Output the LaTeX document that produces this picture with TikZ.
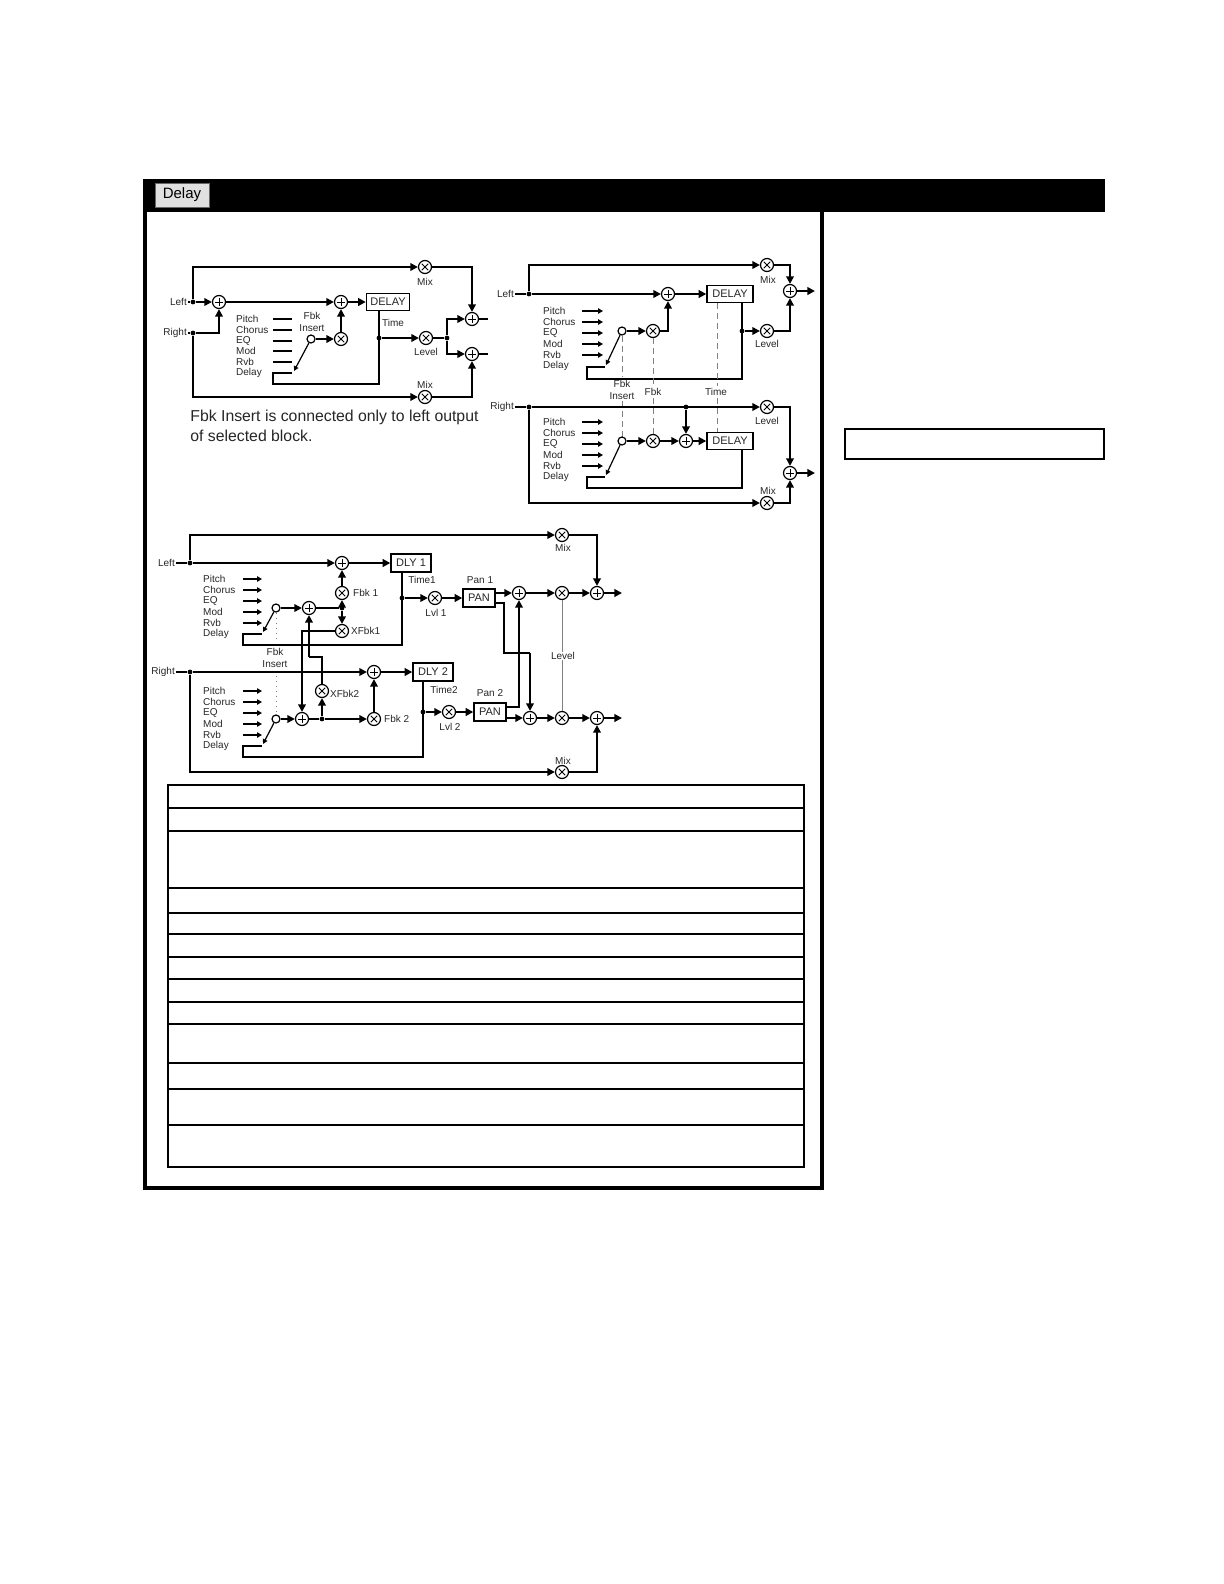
\documentclass[tikz,border=0pt]{standalone}
\usepackage{fontspec}
\setmainfont{Liberation Sans}
\usetikzlibrary{arrows.meta}
\tikzset{
 w/.style={line width=1.2pt},
 a/.style={w,-{Triangle[length=3.8pt,width=3.8pt]}},
 lbl/.style={font=\fontsize{5pt}{6pt}\selectfont,inner sep=0.4pt,text=black!85},
 sm/.style={circle,draw,line width=0.6pt,fill=white,minimum size=6.5pt,inner sep=0pt,
   path picture={\draw[line width=0.5pt]([yshift=-1.9pt]path picture bounding box.center)--([yshift=1.9pt]path picture bounding box.center);
   \draw[line width=0.5pt]([xshift=-1.9pt]path picture bounding box.center)--([xshift=1.9pt]path picture bounding box.center);}},
 mu/.style={circle,draw,line width=0.6pt,fill=white,minimum size=6.5pt,inner sep=0pt,
   path picture={\draw[line width=0.5pt]([shift={(-1.6pt,-1.6pt)}]path picture bounding box.center)--([shift={(1.6pt,1.6pt)}]path picture bounding box.center);
   \draw[line width=0.5pt]([shift={(-1.6pt,1.6pt)}]path picture bounding box.center)--([shift={(1.6pt,-1.6pt)}]path picture bounding box.center);}},
 oc/.style={circle,draw,line width=0.6pt,fill=white,minimum size=4pt,inner sep=0pt},
 dot/.style={circle,fill,minimum size=2.4pt,inner sep=0pt},
 blk/.style={draw,line width=0.7pt,fill=white,font=\fontsize{5.5pt}{6pt}\selectfont,inner sep=0pt,text=black!85},
 bar/.style={line width=1pt},
 abar/.style={line width=0.9pt,-{Triangle[length=2.4pt,width=2.6pt]}},
 sw/.style={line width=0.6pt,-{Triangle[length=2.4pt,width=2.4pt]}},
 dsh/.style={gray,line width=0.5pt,densely dashed},
 note/.style={anchor=west,inner sep=0pt,font=\fontsize{7.9pt}{9pt}\selectfont,text=black!85},
}
\newcommand\plist[6]{%
 \foreach \t [count=\i from 0] in {Pitch,Chorus,EQ,Mod,Rvb,Delay}{
  \node[lbl,anchor=west] at (#1,{#2+\i*#5}) {\t};
  \ifnum\i<5 \draw[#6] (#3,{#2+\i*#5}) -- (#4,{#2+\i*#5});\fi}}
\begin{document}
\begin{tikzpicture}[x=0.5pt,y=-0.5pt]
\useasboundingbox (0,0) rectangle (1224,1584);
% frame
\fill (143,179) rectangle (1105,212);
\node[draw=black!60,line width=0.5pt,fill=black!12,minimum width=27pt,minimum height=12pt,inner sep=0pt,font=\fontsize{7.5pt}{8pt}\selectfont] (btn) at (182,195) {Delay};
\draw[line width=1.6pt] (145,212) -- (145,1188) -- (822,1188) -- (822,212);
\draw[line width=1.4pt] (845,429) rectangle (1104,459);
\draw[blue!70!black,line width=0.5pt] (125,1586) -- (267,1586);
% table
\draw[line width=1.3pt] (168,785) rectangle (804,1167);
\foreach \yy in {808,831,888,913,934,957,979,1002,1024,1063,1089,1125}
  \draw[line width=0.6pt] (168,\yy) -- (804,\yy);

%%%%%%%% Diagram 1
\node[lbl,anchor=east] (aL) at (188,302) {Left};
\node[lbl,anchor=east] (aR) at (188,333) {Right};
\node[dot] (ajl) at (193,302) {};
\node[dot] (ajr) at (193,333) {};
\node[sm] (as1) at (219,302) {};
\node[sm] (as2) at (341,302) {};
\node[blk,minimum width=21.5pt,minimum height=8.5pt] (adly) at (388,302) {DELAY};
\node[mu] (afbk) at (341,339) {};
\node[oc] (ains) at (311,339) {};
\node[mu] (amix1) at (425,267) {};
\node[mu] (amix2) at (425,397) {};
\node[dot] (ajt) at (379,338) {};
\node[mu] (alev) at (426,338) {};
\node[dot] (ajo) at (447,338) {};
\node[sm] (as3) at (472,319) {};
\node[sm] (as4) at (472,354) {};
\coordinate (ao3) at (488,319); \coordinate (ao4) at (488,354);
\coordinate (ab1) at (379,384); \coordinate (ab2) at (273,384); \coordinate (ab3) at (273,373); \coordinate (ab4) at (292,373);
\draw[w] (aL) -- (ajl); \draw[w] (aR) -- (ajr);
\draw[a] (ajl) -- (as1);
\draw[a] (ajl) |- (amix1);
\draw[a] (ajr) -| (as1);
\draw[a] (ajr) |- (amix2);
\draw[a] (as1) -- (as2);
\draw[a] (as2) -- (adly);
\draw[a] (ains) -- (afbk);
\draw[a] (afbk) -- (as2);
\draw[w] (ajt |- adly.south) -- (ab1) -- (ab2) -- (ab3) -- (ab4);
\draw[a] (ajt) -- (alev);
\draw[w] (alev) -- (ajo);
\draw[a] (ajo) |- (as3);
\draw[a] (ajo) |- (as4);
\draw[a] (amix1) -| (as3);
\draw[a] (amix2) -| (as4);
\draw[w] (as3) -- (ao3); \draw[w] (as4) -- (ao4);
\plist{235}{319}{273}{292}{10.8}{bar}
\draw[sw] (ains) -- (294,371);
\node[lbl,align=center] at (312,322) {Fbk\\Insert};
\node[lbl] at (425,282) {Mix};
\node[lbl] at (425,385) {Mix};
\node[lbl] at (393,323) {Time};
\node[lbl] at (426,352) {Level};
\node[note] at (190,417) {Fbk Insert is connected only to left output};
\node[note] at (190,436) {of selected block.};

%%%%%%%% Diagram 2
\node[lbl,anchor=east] (bL) at (515,294) {Left};
\node[dot] (bjl) at (529,294) {};
\node[mu] (bmix1) at (767,265) {};
\node[sm] (bs1) at (668,294) {};
\node[blk,minimum width=23pt,minimum height=8.5pt] (bdly1) at (730,294) {DELAY};
\node[oc] (boc1) at (622,331) {};
\node[mu] (bfbk1) at (653,331) {};
\node[dot] (bjt1) at (742,331) {};
\node[mu] (blev1) at (767,331) {};
\node[sm] (bo1) at (790,291) {};
\coordinate (bx1) at (815,291);
\draw[w] (bL) -- (bjl);
\draw[a] (bjl) |- (bmix1);
\draw[a] (bjl) -- (bs1);
\draw[a] (bs1) -- (bdly1);
\draw[a] (boc1) -- (bfbk1);
\draw[a] (bfbk1) -| (bs1);
\coordinate (bb1) at (742,379); \coordinate (bb2) at (587,379); \coordinate (bb3) at (587,367); \coordinate (bb4) at (605,367);
\draw[w] (bjt1 |- bdly1.south) -- (bb1) -- (bb2) -- (bb3) -- (bb4);
\draw[a] (bjt1) -- (blev1);
\draw[a] (blev1) -| (bo1);
\draw[a] (bmix1) -| (bo1);
\draw[a] (bo1) -- (bx1);
\plist{542}{311}{582}{603}{11}{abar}
\draw[sw] (boc1) -- (606,365);
\node[lbl] at (768,280) {Mix};
\node[lbl] at (767,344) {Level};
% dashed
\draw[dsh] (boc1) -- (622,377); \draw[dsh] (622,401) -- (622,437);
\draw[dsh] (bfbk1) -- (653,386); \draw[dsh] (653,398) -- (653,436);
\draw[dsh] (717,303) -- (717,386); \draw[dsh] (717,398) -- (717,432);
\node[lbl,align=center] at (622,390) {Fbk\\Insert};
\node[lbl] at (653,392) {Fbk};
\node[lbl] at (716,392) {Time};
% lower
\node[lbl,anchor=east] (bR) at (515,407) {Right};
\node[dot] (bjr) at (529,407) {};
\node[dot] (bjr2) at (686,407) {};
\node[mu] (blev2) at (767,407) {};
\node[sm] (bs2) at (686,441) {};
\node[oc] (boc2) at (622,441) {};
\node[mu] (bfbk2) at (653,441) {};
\node[blk,minimum width=23pt,minimum height=8.5pt] (bdly2) at (730,441) {DELAY};
\node[mu] (bmix2) at (767,503) {};
\node[sm] (bo2) at (790,473) {};
\coordinate (bx2) at (815,473);
\draw[w] (bR) -- (bjr);
\draw[a] (bjr) -- (blev2);
\draw[a] (bjr2) -- (bs2);
\draw[a] (bjr) |- (bmix2);
\draw[a] (boc2) -- (bfbk2);
\draw[a] (bfbk2) -- (bs2);
\draw[a] (bs2) -- (bdly2);
\coordinate (bc1) at (742,488); \coordinate (bc2) at (587,488); \coordinate (bc3) at (587,477); \coordinate (bc4) at (605,477);
\draw[w] (bjt1 |- bdly2.south) -- (bc1) -- (bc2) -- (bc3) -- (bc4);
\draw[a] (blev2) -| (bo2);
\draw[a] (bmix2) -| (bo2);
\draw[a] (bo2) -- (bx2);
\plist{542}{422}{582}{603}{11}{abar}
\draw[sw] (boc2) -- (606,475);
\node[lbl] at (767,421) {Level};
\node[lbl] at (768,491) {Mix};

%%%%%%%% Diagram 3
\node[lbl,anchor=east] (cL) at (176,563) {Left};
\node[dot] (cjl) at (190,563) {};
\node[mu] (cmix1) at (562,535) {};
\node[sm] (cs1) at (342,563) {};
\node[blk,minimum width=20pt,minimum height=9pt] (cdly1) at (411,563) {DLY 1};
\node[mu] (cfbk1) at (342,593) {};
\node[dot] (cj1) at (342,608) {};
\node[mu] (cxf1) at (342,631) {};
\node[sm] (cis1) at (309,608) {};
\node[oc] (coc1) at (276,608) {};
\node[dot] (cjt1) at (402,598) {};
\node[mu] (clv1) at (435,598) {};
\node[blk,minimum width=16pt,minimum height=9pt] (cpan1) at (479,598) {PAN};
\node[sm] (co1) at (519,593) {};
\node[mu] (cm1) at (562,593) {};
\node[sm] (cf1) at (597,593) {};
\coordinate (cx1) at (622,593);
\draw[w] (cL) -- (cjl);
\draw[a] (cjl) |- (cmix1);
\draw[a] (cjl) -- (cs1);
\draw[a] (cs1) -- (cdly1);
\draw[a] (coc1) -- (cis1);
\draw[w] (cis1) -- (cj1);
\draw[a] (cj1) -- (cfbk1);
\draw[a] (cfbk1) -- (cs1);
\draw[a] (cj1) -- (cxf1);
\coordinate (cb1) at (402,645); \coordinate (cb2) at (243,645); \coordinate (cb3) at (243,634); \coordinate (cb4) at (262,634);
\draw[w] (cjt1 |- cdly1.south) -- (cb1) -- (cb2) -- (cb3) -- (cb4);
\draw[a] (cjt1) -- (clv1);
\draw[a] (clv1) -- (cpan1);
\draw[a] (cpan1.east |- co1) -- (co1);
\draw[a] (co1) -- (cm1);
\draw[a] (cm1) -- (cf1);
\draw[a] (cf1) -- (cx1);
\draw[a] (cmix1) -| (cf1);
\plist{202}{579}{243}{262}{11}{abar}
\draw[sw] (coc1) -- (263,632);
\node[lbl] at (563,548) {Mix};
\node[lbl,anchor=west] at (352,593) {Fbk 1};
\node[lbl,anchor=west] at (350,631) {XFbk1};
\node[lbl] at (422,580) {Time1};
\node[lbl] at (436,613) {Lvl 1};
\node[lbl] at (480,580) {Pan 1};
% lower
\node[lbl,anchor=east] (cR) at (176,672) {Right};
\node[dot] (cjr) at (190,672) {};
\node[sm] (cs2) at (374,672) {};
\node[blk,minimum width=20pt,minimum height=9pt] (cdly2) at (433,672) {DLY 2};
\node[mu] (cfbk2) at (374,719) {};
\node[dot] (cj2) at (322,719) {};
\node[mu] (cxf2) at (322,691) {};
\node[sm] (cis2) at (302,719) {};
\node[oc] (coc2) at (276,719) {};
\node[dot] (cjt2) at (423,712) {};
\node[mu] (clv2) at (449,712) {};
\node[blk,minimum width=16pt,minimum height=9pt] (cpan2) at (490,712) {PAN};
\node[sm] (co2) at (530,718) {};
\node[mu] (cm2) at (562,718) {};
\node[sm] (cf2) at (597,718) {};
\coordinate (cx2) at (622,718);
\node[mu] (cmix2) at (562,772) {};
\draw[w] (cR) -- (cjr);
\draw[a] (cjr) -- (cs2);
\draw[a] (cjr) |- (cmix2);
\draw[a] (cs2) -- (cdly2);
\draw[a] (coc2) -- (cis2);
\draw[w] (cis2) -- (cj2);
\draw[a] (cj2) -- (cfbk2);
\draw[a] (cfbk2) -- (cs2);
\draw[a] (cj2) -- (cxf2);
\coordinate (cq1) at (322,657); \coordinate (cq2) at (309,657);
\draw[w] (cxf2) -- (cq1) -- (cq2);
\draw[a] (cq2) -- (cis1);
\draw[a] (cxf1) -| (cis2);
\coordinate (cc1) at (423,757); \coordinate (cc2) at (243,757); \coordinate (cc3) at (243,746); \coordinate (cc4) at (262,746);
\draw[w] (cjt2 |- cdly2.south) -- (cc1) -- (cc2) -- (cc3) -- (cc4);
\draw[a] (cjt2) -- (clv2);
\draw[a] (clv2) -- (cpan2);
\coordinate (cp1) at (519,707);
\draw[a] (cpan2.east |- cp1) -- (cp1) -- (co1);
\coordinate (cp2) at (504,603); \coordinate (cp3) at (504,653); \coordinate (cp4) at (530,653);
\draw[w] (cpan1.east |- cp2) -- (cp2) -- (cp3) -- (cp4);
\draw[a] (cp4) -- (co2);
\draw[a] (cpan2.east |- co2) -- (co2);
\draw[a] (co2) -- (cm2);
\draw[a] (cm2) -- (cf2);
\draw[a] (cf2) -- (cx2);
\draw[a] (cmix2) -| (cf2);
\draw[gray,line width=0.5pt] (cm1) -- (cm2);
\node[lbl,fill=white] at (563,656) {Level};
\plist{202}{691}{243}{262}{11}{abar}
\draw[sw] (coc2) -- (263,744);
\draw[dsh,dotted] (coc1) -- (276,640); \draw[dsh,dotted] (276,676) -- (coc2);
\node[lbl,align=center] at (275,658) {Fbk\\Insert};
\node[lbl] at (563,761) {Mix};
\node[lbl,anchor=west] at (383,719) {Fbk 2};
\node[lbl,anchor=west] at (329,694) {XFbk2};
\node[lbl] at (444,690) {Time2};
\node[lbl] at (450,727) {Lvl 2};
\node[lbl] at (490,693) {Pan 2};
\end{tikzpicture}
\end{document}
